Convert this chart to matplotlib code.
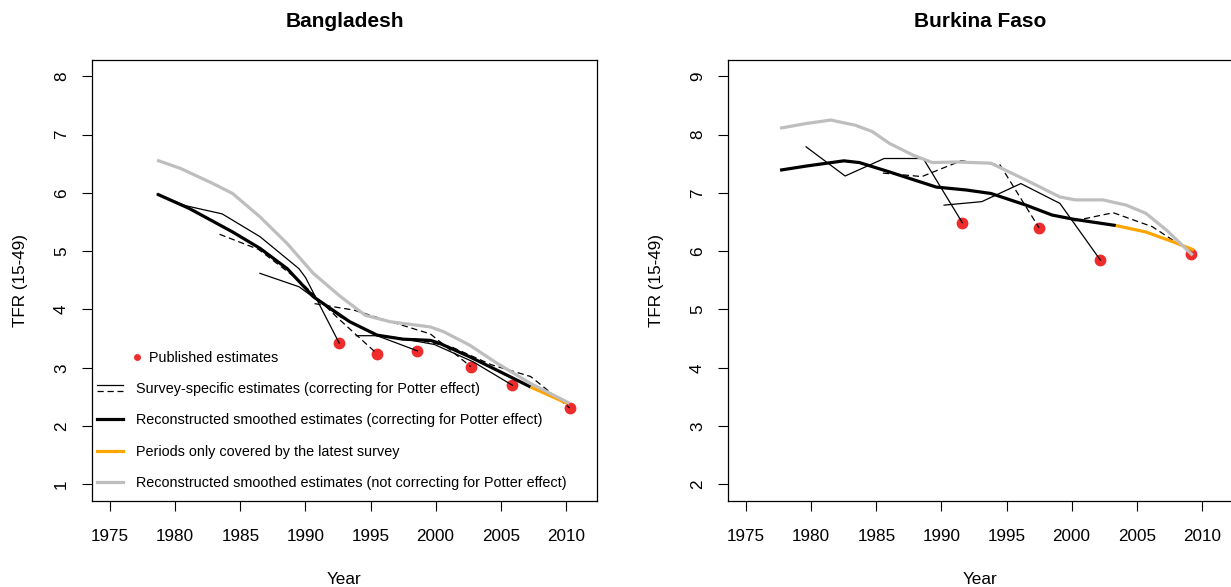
import matplotlib
matplotlib.use("Agg")
import matplotlib.pyplot as plt
import numpy as np
from matplotlib.lines import Line2D
from matplotlib.legend_handler import HandlerBase

plt.rcParams['font.family'] = ['Liberation Sans', 'DejaVu Sans']

# ---- Bangladesh ----
bgd_pub_x = [1992.6, 1995.5, 1998.6, 2002.7, 2005.9, 2010.3]
bgd_pub_y = [3.42, 3.24, 3.29, 3.02, 2.70, 2.31]

bgd_survey_x = [
    [1978.6, 1980.8, 1983.6, 1986.5, 1989.5, 1990.0, 1992.6],
    [1983.4, 1986.4, 1989.5, 1992.5, 1995.5],
    [1986.5, 1989.5, 1991.1, 1992.7, 1995.5, 1998.6],
    [1990.7, 1993.7, 1996.7, 1999.6, 2002.7],
    [1993.9, 1995.5, 1996.9, 1999.9, 2002.9, 2005.9],
    [1998.3, 2001.3, 2004.3, 2007.3, 2010.3],
]
bgd_survey_y = [
    [5.98, 5.78, 5.64, 5.25, 4.70, 4.55, 3.42],
    [5.29, 5.03, 4.50, 3.85, 3.24],
    [4.62, 4.39, 4.13, 3.87, 3.55, 3.29],
    [4.10, 3.99, 3.78, 3.58, 3.02],
    [3.55, 3.55, 3.52, 3.40, 3.10, 2.70],
    [3.50, 3.35, 3.05, 2.85, 2.31],
]

bgd_smooth_x = [1978.6, 1981.1, 1984.4, 1986.5, 1988.6, 1990.6, 1991.9, 1993.4, 1995.5,
                1997.5, 1999.6, 2000.3, 2002.6, 2004.7, 2007.3, 2008.7, 2010.1]
bgd_smooth_y = [5.98, 5.73, 5.33, 5.05, 4.70, 4.22, 4.02, 3.79, 3.56,
                3.49, 3.47, 3.42, 3.19, 2.96, 2.67, 2.53, 2.39]
bgd_latest_from = 2007.3

bgd_raw_x = [1978.6, 1980.4, 1982.9, 1984.4, 1986.5, 1988.6, 1990.6, 1992.7, 1994.6,
             1996.5, 1999.6, 2000.6, 2002.6, 2004.7, 2007.3, 2010.3]
bgd_raw_y = [6.56, 6.42, 6.16, 5.99, 5.59, 5.13, 4.62, 4.22, 3.90,
             3.79, 3.70, 3.62, 3.39, 3.08, 2.73, 2.39]

# ---- Burkina Faso ----
bfa_pub_x = [1991.6, 1997.5, 2002.2, 2009.2]
bfa_pub_y = [6.49, 6.40, 5.85, 5.96]

bfa_survey_x = [
    [1979.6, 1982.6, 1985.6, 1988.6, 1991.6],
    [1985.5, 1988.5, 1991.5, 1994.5, 1997.5],
    [1990.2, 1993.1, 1996.1, 1999.1, 2002.2],
    [2000.2, 2003.2, 2006.2, 2009.2],
]
bfa_survey_y = [
    [7.79, 7.29, 7.59, 7.59, 6.49],
    [7.34, 7.28, 7.55, 7.48, 6.40],
    [6.79, 6.85, 7.16, 6.82, 5.85],
    [6.52, 6.66, 6.42, 5.98],
]

bfa_smooth_x = [1977.6, 1979.6, 1982.5, 1983.7, 1986.0, 1987.8, 1989.6, 1991.9, 1993.8,
                1996.5, 1998.5, 2000.1, 2001.6, 2003.4, 2005.7, 2007.8, 2009.4]
bfa_smooth_y = [7.39, 7.46, 7.55, 7.52, 7.36, 7.23, 7.10, 7.05, 6.99,
                6.79, 6.62, 6.55, 6.50, 6.44, 6.33, 6.16, 6.02]
bfa_latest_from = 2003.4

bfa_raw_x = [1977.6, 1979.6, 1981.5, 1983.4, 1984.7, 1986.0, 1987.8, 1989.3, 1991.1,
             1993.8, 1996.5, 1999.1, 2000.3, 2002.4, 2004.2, 2005.7, 2007.3, 2009.3]
bfa_raw_y = [8.11, 8.19, 8.25, 8.16, 8.05, 7.85, 7.65, 7.52, 7.53,
             7.51, 7.22, 6.93, 6.88, 6.88, 6.79, 6.65, 6.36, 5.93]

RED = '#EE2C2C'
GRAY = '#BEBEBE'
ORANGE = '#FFA500'
DASH = (0, (5, 3))


class HandlerPair(HandlerBase):
    # solid line above, dashed line below (survey-specific key)
    def create_artists(self, legend, orig_handle, xdescent, ydescent,
                       width, height, fontsize, trans):
        yc = height / 2 - ydescent
        off = 2.4
        x = [-xdescent, width - xdescent]
        l1 = Line2D(x, [yc + off] * 2, color='black', lw=0.9)
        l2 = Line2D(x, [yc - off] * 2, color='black', lw=0.9, linestyle=DASH)
        l1.set_transform(trans)
        l2.set_transform(trans)
        return [l1, l2]


def draw_panel(ax, title, pub_x, pub_y, sx, sy, smx, smy, latest, rx, ry, ylim, yticks):
    ax.plot(pub_x, pub_y, 'o', color=RED, ms=8.5, mec='none', zorder=2)
    for i, (xs, ys) in enumerate(zip(sx, sy)):
        ls = '-' if i % 2 == 0 else DASH
        ax.plot(xs, ys, color='black', lw=0.9, linestyle=ls, zorder=3)
    smx = np.array(smx)
    smy = np.array(smy)
    m1 = smx <= latest
    m2 = smx >= latest
    ax.plot(smx[m1], smy[m1], color='black', lw=2.3, zorder=4, solid_capstyle='butt')
    ax.plot(smx[m2], smy[m2], color=ORANGE, lw=2.3, zorder=4, solid_capstyle='butt')
    ax.plot(rx, ry, color=GRAY, lw=2.3, zorder=5, solid_capstyle='butt')

    ax.set_xlim(1973.6, 2012.4)
    ax.set_ylim(*ylim)
    ax.set_xticks([1975, 1980, 1985, 1990, 1995, 2000, 2005, 2010])
    ax.set_yticks(yticks)
    ax.set_yticklabels([str(t) for t in yticks], rotation=90, va='center')
    ax.tick_params(direction='out', length=7.5, width=0.8, labelsize=12.3)
    ax.tick_params(axis='x', pad=13)
    ax.tick_params(axis='y', pad=9)
    for s in ax.spines.values():
        s.set_linewidth(0.9)
    ax.set_title(title, fontsize=15, fontweight='bold', pad=24)
    ax.set_xlabel('Year', fontsize=12.3, labelpad=20)
    ax.set_ylabel('TFR (15-49)', fontsize=12.3, labelpad=19)


fig = plt.figure(figsize=(12.31, 5.87), dpi=100)
ax1 = fig.add_axes([92 / 1231, 86 / 587, 505 / 1231, 441 / 587])
ax2 = fig.add_axes([728 / 1231, 86 / 587, 505 / 1231, 441 / 587])

draw_panel(ax1, 'Bangladesh', bgd_pub_x, bgd_pub_y, bgd_survey_x, bgd_survey_y,
           bgd_smooth_x, bgd_smooth_y, bgd_latest_from, bgd_raw_x, bgd_raw_y,
           (0.714, 8.28), [1, 2, 3, 4, 5, 6, 7, 8])
draw_panel(ax2, 'Burkina Faso', bfa_pub_x, bfa_pub_y, bfa_survey_x, bfa_survey_y,
           bfa_smooth_x, bfa_smooth_y, bfa_latest_from, bfa_raw_x, bfa_raw_y,
           (1.714, 9.28), [2, 3, 4, 5, 6, 7, 8, 9])

# legend: published estimates
leg1 = ax1.legend(handles=[Line2D([], [], ls='none', marker='o', color=RED, ms=5, mec='none')],
                  labels=['Published estimates'], loc='center left',
                  bbox_to_anchor=((130 - 92) / 505, (501 - 358) / 441),
                  frameon=False, fontsize=10.4, handlelength=0.95, handletextpad=0.35,
                  borderpad=0, borderaxespad=0)
ax1.add_artist(leg1)

line_handles = [
    (Line2D([], [], color='black'), Line2D([], [], color='black', ls='--')),
    Line2D([], [], color='black', lw=2.3),
    Line2D([], [], color=ORANGE, lw=2.3),
    Line2D([], [], color=GRAY, lw=2.3),
]
line_labels = [
    'Survey-specific estimates (correcting for Potter effect)',
    'Reconstructed smoothed estimates (correcting for Potter effect)',
    'Periods only covered by the latest survey',
    'Reconstructed smoothed estimates (not correcting for Potter effect)',
]
ax1.legend(handles=line_handles, labels=line_labels, handler_map={tuple: HandlerPair()},
           loc='lower left', bbox_to_anchor=((97 - 92) / 505, (501 - 490) / 441),
           frameon=False, fontsize=10.4, handlelength=1.8, handletextpad=0.9,
           labelspacing=1.2, borderpad=0, borderaxespad=0)

fig.savefig('out.png', dpi=100)
